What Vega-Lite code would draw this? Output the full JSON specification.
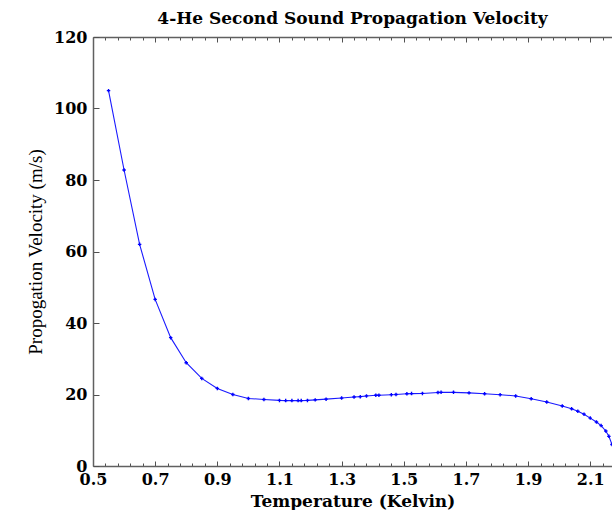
{
  "$schema": "https://vega.github.io/schema/vega-lite/v6.json",
  "width": 519,
  "height": 429,
  "autosize": "none",
  "padding": {"left": 93, "top": 37, "right": 0, "bottom": 44},
  "background": "white",
  "title": {"text": "4-He Second Sound Propagation Velocity", "font": "DejaVu Serif", "fontWeight": "bold", "fontSize": 17, "anchor": "middle", "offset": 1, "color": "black"},
  "config": {
    "view": {"stroke": null},
    "axis": {"grid": false, "domainColor": "#606060", "domainWidth": 1.5, "tickColor": "#505050", "tickWidth": 1, "labelColor": "black", "titleColor": "black"}
  },
  "datasets": {
    "he": [
      {"T": 0.55, "v": 105}, {"T": 0.60, "v": 82.8}, {"T": 0.65, "v": 62}, {"T": 0.70, "v": 46.6},
      {"T": 0.75, "v": 35.9}, {"T": 0.80, "v": 28.9}, {"T": 0.85, "v": 24.5}, {"T": 0.90, "v": 21.7},
      {"T": 0.95, "v": 20.0}, {"T": 1.00, "v": 18.9}, {"T": 1.05, "v": 18.6}, {"T": 1.10, "v": 18.35},
      {"T": 1.12, "v": 18.3}, {"T": 1.14, "v": 18.3}, {"T": 1.16, "v": 18.3}, {"T": 1.17, "v": 18.3},
      {"T": 1.19, "v": 18.35}, {"T": 1.215, "v": 18.5}, {"T": 1.25, "v": 18.7}, {"T": 1.30, "v": 19.0},
      {"T": 1.34, "v": 19.3}, {"T": 1.36, "v": 19.4}, {"T": 1.38, "v": 19.6}, {"T": 1.41, "v": 19.8},
      {"T": 1.42, "v": 19.8}, {"T": 1.46, "v": 19.95}, {"T": 1.475, "v": 20.0}, {"T": 1.51, "v": 20.2},
      {"T": 1.525, "v": 20.25}, {"T": 1.56, "v": 20.3}, {"T": 1.61, "v": 20.55}, {"T": 1.62, "v": 20.6},
      {"T": 1.66, "v": 20.6}, {"T": 1.71, "v": 20.45}, {"T": 1.76, "v": 20.2}, {"T": 1.81, "v": 19.95},
      {"T": 1.86, "v": 19.6}, {"T": 1.91, "v": 18.8}, {"T": 1.96, "v": 17.9}, {"T": 2.01, "v": 16.8},
      {"T": 2.04, "v": 16.0}, {"T": 2.06, "v": 15.3}, {"T": 2.08, "v": 14.5}, {"T": 2.10, "v": 13.4},
      {"T": 2.12, "v": 12.3}, {"T": 2.135, "v": 11.3}, {"T": 2.15, "v": 9.8}, {"T": 2.16, "v": 8.3},
      {"T": 2.17, "v": 6.0}
    ]
  },
  "layer": [
    {
      "data": {"name": "he"},
      "mark": {"type": "line", "color": "#1a1aff", "strokeWidth": 1.1, "clip": true,
               "point": {"shape": "cross", "size": 12, "filled": true, "color": "#0000ff"}},
      "encoding": {
        "x": {"field": "T", "type": "quantitative",
              "scale": {"domain": [0.5, 2.17], "nice": false, "zero": false},
              "axis": {"orient": "bottom", "title": "Temperature (Kelvin)",
                       "values": [0.5,0.54,0.58,0.62,0.66,0.7,0.74,0.78,0.82,0.86,0.9,0.94,0.98,1.02,1.06,1.1,1.14,1.18,1.22,1.26,1.3,1.34,1.38,1.42,1.46,1.5,1.54,1.58,1.62,1.66,1.7,1.74,1.78,1.82,1.86,1.9,1.94,1.98,2.02,2.06,2.1,2.14],
                       "labelExpr": "abs(round((datum.value-0.5)/0.2)*0.2-(datum.value-0.5))<0.001 ? format(datum.value,'.1f') : ''",
                       "tickSize": {"condition": {"test": "abs(round((datum.value-0.5)/0.2)*0.2-(datum.value-0.5))<0.001", "value": -5}, "value": -3},
                       "labelPadding": 10, "labelFlush": false, "labelOverlap": false,
                       "labelFont": "DejaVu Serif", "labelFontWeight": "bold", "labelFontSize": 16,
                       "titleFont": "DejaVu Serif", "titleFontWeight": "bold", "titleFontSize": 17, "titlePadding": 4}},
        "y": {"field": "v", "type": "quantitative",
              "scale": {"domain": [0, 120], "nice": false},
              "axis": {"orient": "left", "title": "Propogation Velocity (m/s)",
                       "values": [0,20,40,60,80,100,120],
                       "tickSize": -6, "labelPadding": 12, "labelFlush": false, "labelOverlap": false,
                       "labelFont": "DejaVu Serif", "labelFontWeight": "bold", "labelFontSize": 16,
                       "titleFont": "Liberation Serif", "titleFontWeight": "normal", "titleFontSize": 19, "titlePadding": 8}}
      }
    },
    {
      "data": {"name": "he"},
      "mark": {"type": "line", "opacity": 0},
      "encoding": {
        "x": {"field": "T", "type": "quantitative",
              "scale": {"domain": [0.5, 2.17], "nice": false, "zero": false},
              "axis": {"orient": "top", "title": null, "labels": false,
                       "values": [0.5,0.54,0.58,0.62,0.66,0.7,0.74,0.78,0.82,0.86,0.9,0.94,0.98,1.02,1.06,1.1,1.14,1.18,1.22,1.26,1.3,1.34,1.38,1.42,1.46,1.5,1.54,1.58,1.62,1.66,1.7,1.74,1.78,1.82,1.86,1.9,1.94,1.98,2.02,2.06,2.1,2.14],
                       "tickSize": {"condition": {"test": "abs(round((datum.value-0.5)/0.2)*0.2-(datum.value-0.5))<0.001", "value": -5}, "value": -3}}},
        "y": {"field": "v", "type": "quantitative", "scale": {"domain": [0, 120], "nice": false}, "axis": null}
      }
    }
  ],
  "resolve": {"axis": {"x": "independent", "y": "independent"}}
}
